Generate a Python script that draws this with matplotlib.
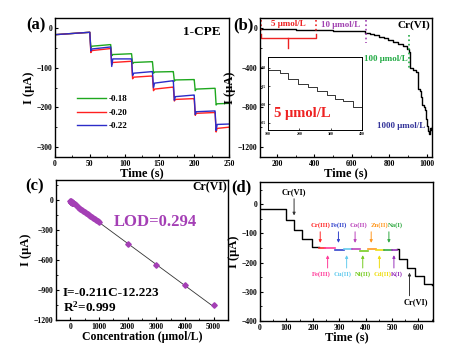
import numpy as np
import matplotlib
matplotlib.use('Agg')
import matplotlib.pyplot as plt
from matplotlib.ticker import AutoMinorLocator

plt.rcParams['font.family'] = ['Liberation Serif', 'DejaVu Serif']
plt.rcParams['font.weight'] = 'bold'
plt.rcParams['axes.labelweight'] = 'bold'
plt.rcParams['mathtext.default'] = 'regular'

# ---------- (a) 1-CPE at three potentials ----------
a_step_t = [0, 50, 80, 110, 140, 170, 200, 230, 250]
a_labels = ['-0.18', '-0.20', '-0.22']
a_colors = ['#1fa81f', '#ff2020', '#2c2cc8']
a_start = [[-17, -46, -67, -87, -111, -131, -154, -191],
           [-17, -57, -87, -124, -154, -180, -215, -253],
           [-17, -53, -78, -114, -139, -173, -211, -243]]
a_end = [[-11, -42, -65, -85, -110, -130, -152, -190],
         [-11, -52, -84, -121, -149, -178, -213, -250],
         [-11, -48, -78, -110, -133, -169, -209, -242]]
a_dip = [[-50, -70, -90, -114, -134, -158, -194],
         [-62, -92, -128, -158, -184, -220, -262],
         [-58, -97, -120, -150, -182, -218, -258]]

# ---------- (b) amperometric response to Cr(VI) ----------
b_t = [110, 200, 300, 400, 500, 600, 660, 670, 695, 720, 745, 770, 795, 820, 845,
       870, 895, 905, 908, 925, 940, 950, 955, 965, 970, 975, 982, 988, 993, 997,
       1002, 1006, 1011, 1018, 1022, 1027]
b_i = [-12, -15, -18, -22, -26, -30, -35, -50, -62, -75, -90, -105, -120, -140, -158,
       -180, -210, -238, -400, -420, -440, -455, -620, -640, -700, -780, -800, -830, -880, -915,
       -985, -1040, -1065, -1010, -1030, -1000]
inset_t = [100, 139, 165, 197, 229, 255, 287, 313, 340, 371, 400]
inset_i = [-10.5, -11.5, -13.0, -14.4, -15.3, -16.2, -17.3, -18.4, -19.1, -20.6, -20.5]

# ---------- (c) calibration ----------
c_conc = [5, 10, 15, 20, 25, 30, 35, 40, 45, 50, 60, 70, 80, 90, 100, 150, 200, 250,
          300, 350, 400, 450, 500, 550, 600, 650, 700, 750, 800, 850, 900, 950, 1000,
          2000, 3000, 4000, 5000]
c_curr = [-13, -14, -15, -16, -17, -19, -20, -21, -22, -23, -25, -27, -29, -31, -33,
          -44, -54, -65, -76, -86, -97, -107, -118, -128, -139, -149, -160, -170, -181,
          -192, -202, -213, -223, -435, -645, -850, -1050]
c_slope = -0.211
c_icpt = -12.223

# ---------- (d) interference ----------
d_t1 = [0, 98, 128, 160, 195, 222]
d_i1 = [-18, -55, -88, -120, -148, -148]
d_t2 = [518, 526, 556, 585, 620, 650]
d_i2 = [-155, -187, -219, -245, -273, -278]
ions_up = ['Cr(III)', 'Fe(II)', 'Co(II)', 'Zn(II)', 'Na(I)']
ions_up_arrow = [228, 297, 360, 421, 488]
ions_up_text = [190, 268, 341, 417, 486]
ions_up_col = ['#ff2a2a', '#3344cc', '#bb44bb', '#ff9922', '#33aa44']
ions_dn = ['Fe(III)', 'Cu(II)', 'Ni(II)', 'Cd(II)', 'K(I)']
ions_dn_arrow = [256, 328, 389, 452, 507]
ions_dn_text = [198, 280, 358, 429, 497]
ions_dn_col = ['#ff3c9a', '#66ccee', '#77cc22', '#eedd11', '#9933bb']
seg_t = [222, 245, 283, 318, 348, 378, 410, 440, 470, 498, 518]
seg_i = [-150, -151, -156, -153, -154, -160, -153, -157, -158, -157]
seg_col = ['#ff2a2a', '#ff3c9a', '#3344cc', '#66ccee', '#bb44bb', '#77cc22',
           '#ff9922', '#eedd11', '#33aa44', '#9933bb']

W, H = 452, 352
fig = plt.figure(figsize=(W / 100, H / 100), dpi=100)


def box(l, t, r, b):
    return [l / W, 1 - b / H, (r - l) / W, (b - t) / H]


def style(ax, fs=5.5):
    ax.tick_params(direction='in', labelsize=fs, width=0.8, length=2.5, pad=2)
    ax.tick_params(which='minor', direction='in', width=0.6, length=1.5)
    ax.xaxis.set_minor_locator(AutoMinorLocator(2))
    ax.yaxis.set_minor_locator(AutoMinorLocator(2))
    for s in ax.spines.values():
        s.set_linewidth(1.0)
    for lab in ax.get_xticklabels() + ax.get_yticklabels():
        lab.set_fontweight('bold')


# (a)
ax = fig.add_axes(box(55, 18, 229, 157))
for k in range(3):
    xs, ys = [], []
    for i in range(len(a_step_t) - 1):
        t0, t1 = a_step_t[i], a_step_t[i + 1]
        if i > 0:
            xs += [t0, t0 + 1.5]
            ys += [a_end[k][i - 1], a_dip[k][i - 1]]
        xs += [t0 + (3 if i > 0 else 0), t1 - 0.5]
        ys += [a_start[k][i], a_end[k][i]]
    ax.plot(xs, ys, color=a_colors[k], lw=1.0, label=a_labels[k])
ax.set_xlim(0, 250)
ax.set_ylim(-325, 25)
ax.set_xticks([0, 50, 100, 150, 200, 250])
ax.set_yticks([0, -100, -200, -300])
style(ax)
ax.set_xlabel('Time (s)', fontsize=9, labelpad=0)
ax.set_ylabel('I (μA)', fontsize=9, labelpad=1)
ax.text(0.95, 0.9, '1-CPE', transform=ax.transAxes, ha='right', va='center', fontsize=9.5)
ax.legend(loc='center left', bbox_to_anchor=(0.08, 0.32), frameon=False, fontsize=6.5,
          handlelength=3.2, handletextpad=0.3, labelspacing=0.55)

# (b)
ax = fig.add_axes(box(260, 18, 432, 157))
ax.plot(b_t, b_i, color='black', lw=1.0, drawstyle='steps-post')
ax.set_xlim(110, 1027)
ax.set_ylim(-1300, 100)
ax.set_xticks([200, 400, 600, 800, 1000])
ax.set_yticks([0, -400, -800, -1200])
style(ax)
ax.set_xlabel('Time (s)', fontsize=9, labelpad=0)
ax.set_ylabel('I (μA)', fontsize=9, labelpad=1)
red, pur, grn, nav = '#ee2222', '#a040b0', '#22aa44', '#333399'
ax.plot([115, 115], [80, -50], ls=':', color=red, lw=1.2)
ax.plot([406, 406], [80, -50], ls=':', color=red, lw=1.2)
ax.plot([115, 115, 406, 406], [-60, -98, -98, -60], color=red, lw=1.0)
ax.plot([260, 260], [-98, -206], color=red, lw=1.0)
ax.plot([673, 673], [80, -155], ls=':', color=pur, lw=1.2)
ax.plot([905, 905], [-70, -425], ls=':', color=grn, lw=1.2)
ax.text(260, 40, '5 μmol/L', color=red, fontsize=6.5, ha='center', va='center')
ax.text(540, 30, '10 μmol/L', color=pur, fontsize=6.5, ha='center', va='center')
ax.text(1020, 30, 'Cr(VI)', color='black', fontsize=8, ha='right', va='center')
ax.text(900, -310, '100 μmol/L', color=grn, fontsize=6.5, ha='right', va='center')
ax.text(990, -985, '1000 μmol/L', color=nav, fontsize=6.5, ha='right', va='center')

ins = fig.add_axes(box(268, 57, 362, 130))
ins.plot(inset_t, inset_i, color='#333333', lw=0.7, drawstyle='steps-post')
ins.set_xlim(100, 400)
ins.set_ylim(-27, -7)
ins.set_xticks([100, 200, 300, 400])
ins.set_yticks([-10, -15, -20, -25])
ins.tick_params(direction='in', labelsize=2.8, width=0.5, length=1.5, pad=1.5)
for s in ins.spines.values():
    s.set_linewidth(0.7)
ins.text(0.37, 0.22, '5 μmol/L', transform=ins.transAxes, color=red, fontsize=10.5,
         ha='center', va='center')

# (c)
ax = fig.add_axes(box(56, 180, 228, 320))
cc = '#a43fb5'
xl = np.array([0, 5000])
ax.plot(xl, c_slope * xl + c_icpt, color='#333333', lw=0.6)
ax.plot(c_conc, c_curr, ls='none', marker='D', ms=2.8, color=cc, mec=cc)
ax.set_xlim(-500, 5500)
ax.set_ylim(-1200, 200)
ax.set_xticks([0, 1000, 2000, 3000, 4000, 5000])
ax.set_yticks([0, -300, -600, -900, -1200])
style(ax)
ax.set_xlabel('Concentration (μmol/L)', fontsize=8.5, labelpad=0)
ax.set_ylabel('I (μA)', fontsize=9, labelpad=1)
ax.text(0.995, 0.95, 'Cr(VI)', transform=ax.transAxes, ha='right', va='center', fontsize=8.5)
ax.text(0.58, 0.7, 'LOD=0.294', transform=ax.transAxes, ha='center', va='center',
        fontsize=12, color=cc)
ax.text(0.04, 0.19, 'I=-0.211C-12.223', transform=ax.transAxes, ha='left', va='center',
        fontsize=9.5)
ax.text(0.04, 0.09, 'R$^2$=0.999', transform=ax.transAxes, ha='left', va='center',
        fontsize=9.5)

# (d)
ax = fig.add_axes(box(260, 182, 433, 321))
ax.plot(d_t1, d_i1, color='black', lw=1.0, drawstyle='steps-post')
ax.plot(d_t2, d_i2, color='black', lw=1.0, drawstyle='steps-post')
for i in range(len(seg_i)):
    ax.plot([seg_t[i], seg_t[i + 1]], [seg_i[i], seg_i[i]], color=seg_col[i], lw=1.2)
for name, xa, xt, col in zip(ions_up, ions_up_arrow, ions_up_text, ions_up_col):
    ax.text(xt, -73, name, color=col, fontsize=4.8, ha='left', va='center')
    ax.annotate('', xy=(xa, -142), xytext=(xa, -85),
                arrowprops=dict(arrowstyle='-|>', color=col, lw=0.7, mutation_scale=4))
for name, xa, xt, col in zip(ions_dn, ions_dn_arrow, ions_dn_text, ions_dn_col):
    ax.text(xt, -240, name, color=col, fontsize=4.8, ha='left', va='center')
    ax.annotate('', xy=(xa, -165), xytext=(xa, -228),
                arrowprops=dict(arrowstyle='-|>', color=col, lw=0.7, mutation_scale=4))
ax.text(130, 40, 'Cr(VI)', fontsize=6, ha='center', va='center')
ax.annotate('', xy=(129, -48), xytext=(129, 28),
            arrowprops=dict(arrowstyle='-|>', color='#333333', lw=0.7, mutation_scale=4))
ax.text(590, -337, 'Cr(VI)', fontsize=6, ha='center', va='center')
ax.annotate('', xy=(566, -225), xytext=(566, -323),
            arrowprops=dict(arrowstyle='-|>', color='#333333', lw=0.7, mutation_scale=4))
ax.set_xlim(0, 655)
ax.set_ylim(-400, 76)
ax.set_xticks([0, 100, 200, 300, 400, 500, 600])
ax.set_yticks([0, -100, -200, -300, -400])
style(ax)
ax.set_xlabel('Time (s)', fontsize=9, labelpad=0)
ax.set_ylabel('I (μA)', fontsize=9, labelpad=1)

for lab, x, y in [('(a)', 36, 25), ('(b)', 243, 25), ('(c)', 35, 186), ('(d)', 241, 187)]:
    fig.text(x / W, 1 - y / H, lab, fontsize=12, ha='center', va='center', fontweight='bold')

fig.savefig('out.png', dpi=100)
